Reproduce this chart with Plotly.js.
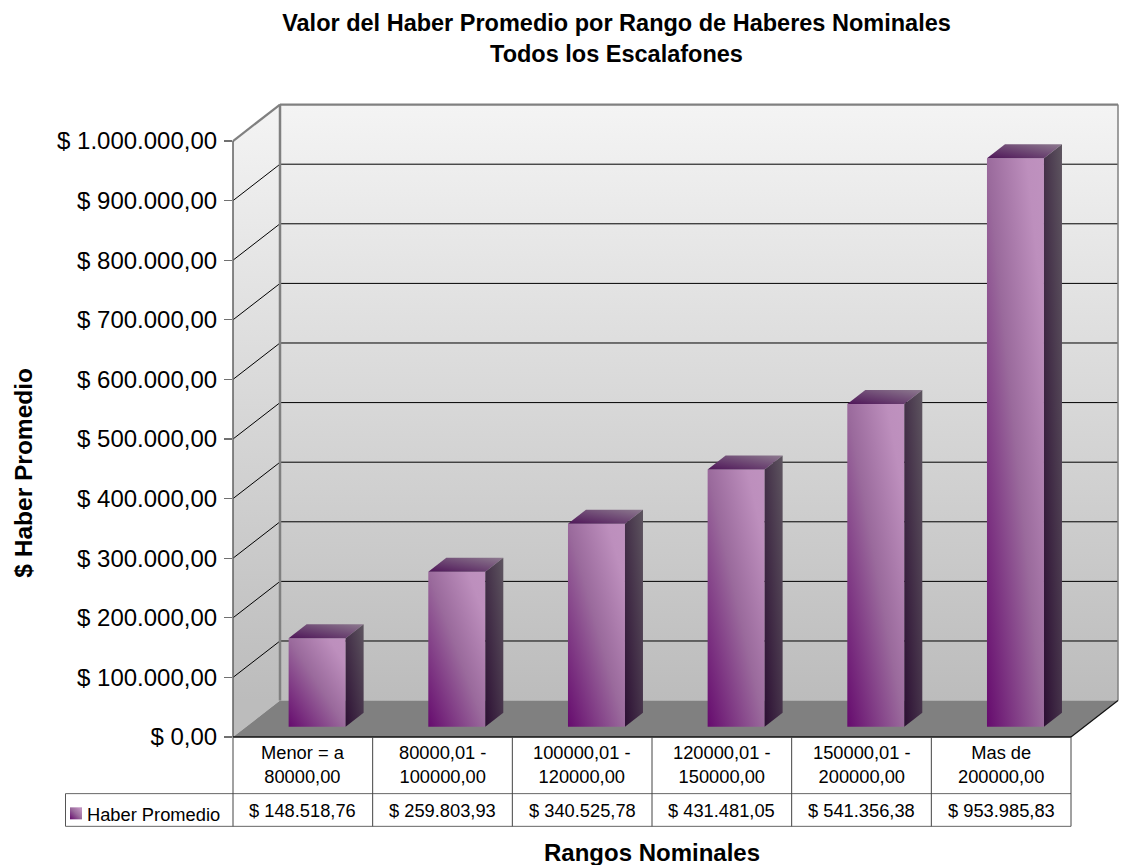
<!DOCTYPE html>
<html><head><meta charset="utf-8">
<script src="https://cdn.plot.ly/plotly-3.0.1.min.js"></script>
<style>html,body{margin:0;padding:0;background:#fff}#c{width:1125px;height:865px}</style>
</head><body><div id="c"></div>
<script>
const categories = ["Menor = a<br>80000,00","80000,01 -<br>100000,00","100000,01 -<br>120000,00","120000,01 -<br>150000,00","150000,01 -<br>200000,00","Mas de<br>200000,00"];
const seriesName = "Haber Promedio";
const values = [148518.76,259803.93,340525.78,431481.05,541356.38,953985.83];
const chartTitle = "Valor del Haber Promedio por Rango de Haberes Nominales<br>Todos los Escalafones";
const xTitle = "Rangos Nominales";
const yTitle = "$ Haber Promedio";

const W=1125,H=865,FONT='"Liberation Sans", Arial, sans-serif';
const L=233,R=1118,T=104,B=736.7, colW=(1071-233)/6, pxPerVal=595.7/1e6;
const wallDX=47,wallDY=36.4, barDX=14.3,barDY=10.3, sideDX=18,sideDY=14, barW=57;
const xMax=(R-L)/colW, yMax=(B-T)/pxPerVal;
const u=px=>px/colW, v=px=>px/pxPerVal;
const PX=x=>(x-L)/(R-L), PY=y=>1-(y-T)/(B-T);
const X=c=>L+c*colW, Y=val=>B-val*pxPerVal;
const line=(x0,y0,x1,y1,color,width)=>({type:'line',xref:'paper',yref:'paper',layer:'below',x0:PX(x0),y0:PY(y0),x1:PX(x1),y1:PY(y1),line:{color,width}});
const poly=(pts,fill)=>({type:'path',xref:'paper',yref:'paper',layer:'below',fillcolor:fill,line:{width:0},
  path:pts.map((p,i)=>(i?'L':'M')+PX(p[0])+' '+PY(p[1])).join(' ')+' Z'});

const backY=B-wallDY, topY=Y(1e6);
const shapes=[
  poly([[L+wallDX,topY-wallDY],[R,topY-wallDY],[R,backY],[L+wallDX,backY]],'#dddddd'),
  poly([[L,topY],[L+wallDX,topY-wallDY],[L+wallDX,backY],[L,B]],'#dddddd'),
  poly([[L,B],[L+wallDX,backY],[R,backY],[X(6),B]],'#808080')
];
const WALLS=2;
for(let k=1;k<=9;k++){
  const y=Y(k*1e5);
  shapes.push(line(L,y,L+wallDX,y-wallDY,'#000',1));
  shapes.push(line(L+wallDX,y-wallDY,R,y-wallDY,'#000',1));
}
shapes.push(line(L,topY,L+wallDX,topY-wallDY,'#808080',2.2));
shapes.push(line(L+wallDX,topY-wallDY,R,topY-wallDY,'#808080',2.2));
shapes.push(line(L+wallDX,topY-wallDY,L+wallDX,backY,'#808080',2.5));
shapes.push(line(R,topY-wallDY,R,backY,'#808080',1.5));
shapes.push(line(L,topY,L,B,'#606060',1.5));
shapes.push(line(X(6),B,R,backY,'#111',1.2));
// data table
const tRow1=793.3,tRow2=826,tLeft=65.5;
shapes.push(line(L,B,X(6),B,'#111',1.6));
shapes.push(line(tLeft,tRow1,X(6),tRow1,'#666',1));
shapes.push(line(tLeft,tRow2,X(6),tRow2,'#666',1));
shapes.push(line(tLeft,tRow1,tLeft,tRow2,'#555',1));
for(let i=0;i<=6;i++) shapes.push(line(X(i),B,X(i),tRow2,'#444',1));
const swatchIndex=shapes.length;
shapes.push(poly([[70,807],[82,807],[82,819],[70,819]],'#8a4a8a'));

const fmt=n=>'$ '+n.toFixed(2).replace('.',',').replace(/\B(?=(\d{3})+(?!\d))/g,'.');
const ann=(text,x,y,size,extra)=>Object.assign({text,xref:'paper',yref:'paper',x:PX(x),y:PY(y),showarrow:false,
  font:{family:FONT,size,color:'#000'},xanchor:'center',yanchor:'middle',align:'center'},extra||{});
const annotations=[];
categories.forEach((c,i)=>{
  annotations.push(ann(c,X(i+0.5),764.5,18.3));
  annotations.push(ann(fmt(values[i]),X(i+0.5),810,18.3));
});
annotations.push(ann(seriesName,85,814,18.3,{xanchor:'left'}));
annotations.push(ann('<b>'+xTitle+'</b>',651.5,852,24));
annotations.push(ann('<b>'+yTitle+'</b>',23.5,473,24.5,{textangle:-90}));

const xs=values.map((_,i)=>i+0.5+u(barDX));
const bw=u(barW), base=v(barDY);
const traces=[{type:'bar',name:seriesName,x:xs,y:values,base:values.map(()=>base),width:bw,
  marker:{color:'#8a4a8a',line:{width:0}},hoverinfo:'skip',showlegend:false}];
const polyTrace=(px,py,name,color)=>({type:'scatter',mode:'lines',x:px,y:py,fill:'toself',fillcolor:color,
  line:{width:0},hoverinfo:'skip',showlegend:false,name});
values.forEach((val,i)=>{
  const l=xs[i]-bw/2,r=xs[i]+bw/2,t=val+base,dx=u(sideDX),dy=v(sideDY);
  traces.push(polyTrace([l,r,r+dx,l+dx,l],[t,t,t+dy,t+dy,t],'top','#6a4070'));
  traces.push(polyTrace([r,r+dx,r+dx,r,r],[base,base+dy,t+dy,t,base],'side','#453545'));
});

const layout={
  width:W,height:H,paper_bgcolor:'#fff',plot_bgcolor:'rgba(0,0,0,0)',showlegend:false,
  separators:',.',font:{family:FONT,color:'#000'},
  margin:{l:L,r:W-R,t:T,b:H-B,pad:0},
  title:{text:chartTitle,x:616.5/W,xanchor:'center',xref:'container',y:1-31/H,yref:'container',yanchor:'top',
    font:{family:FONT,size:23.5,weight:700,color:'#000'}},
  xaxis:{range:[0,xMax],showgrid:false,zeroline:false,showticklabels:false,ticks:'',showline:false,fixedrange:true},
  yaxis:{range:[0,yMax],showgrid:false,zeroline:false,showline:false,ticks:'outside',ticklen:8,tickwidth:1.2,tickcolor:'#707070',
    dtick:100000,tick0:0,tickformat:',.2f',tickprefix:'$ ',ticklabelstandoff:2,tickfont:{family:FONT,size:24,color:'#000'}},
  shapes,annotations
};

Plotly.newPlot('c',traces,layout,{displayModeBar:false,staticPlot:true}).then(()=>{
  const svg=document.querySelector('#c .main-svg');
  const NS='http://www.w3.org/2000/svg';
  const defs=svg.querySelector('defs')||svg.insertBefore(document.createElementNS(NS,'defs'),svg.firstChild);
  const grad=(id,attrs,stops)=>{
    const g=document.createElementNS(NS,'linearGradient');g.setAttribute('id',id);
    for(const k in attrs)g.setAttribute(k,attrs[k]);
    stops.forEach(([o,c])=>{const s=document.createElementNS(NS,'stop');s.setAttribute('offset',o);s.setAttribute('stop-color',c);g.appendChild(s);});
    defs.appendChild(g);
  };
  const diag={x1:0,y1:1,x2:1,y2:0};
  grad('gFront',diag,[[0,'#660b6e'],[0.5,'#9a6a9c'],[0.85,'#bd8fbd'],[1,'#bf92bf']]);
  grad('gSide',diag,[[0,'#2c0f33'],[1,'#5e5560']]);
  grad('gTop',diag,[[0,'#4e1558'],[1,'#8d7a8f']]);
  grad('gWall',{gradientUnits:'userSpaceOnUse',x1:0,y1:T,x2:0,y2:B-wallDY},[[0,'#f4f4f4'],[1,'#bcbcbc']]);
  svg.querySelectorAll('.barlayer .point path').forEach(p=>p.style.fill='url(#gFront)');
  svg.querySelectorAll('.scatterlayer .trace').forEach((t,i)=>{
    const f=t.querySelector('path.js-fill');
    if(f) f.style.fill=(i%2===0)?'url(#gTop)':'url(#gSide)';
  });
  const shapePaths=svg.querySelectorAll('.shapelayer path');
  shapePaths.forEach(p=>{
    const idx=+p.getAttribute('data-index');
    if(idx<WALLS) p.style.fill='url(#gWall)';
    if(idx===swatchIndex) p.style.fill='url(#gFront)';
  });
});
</script></body></html>
